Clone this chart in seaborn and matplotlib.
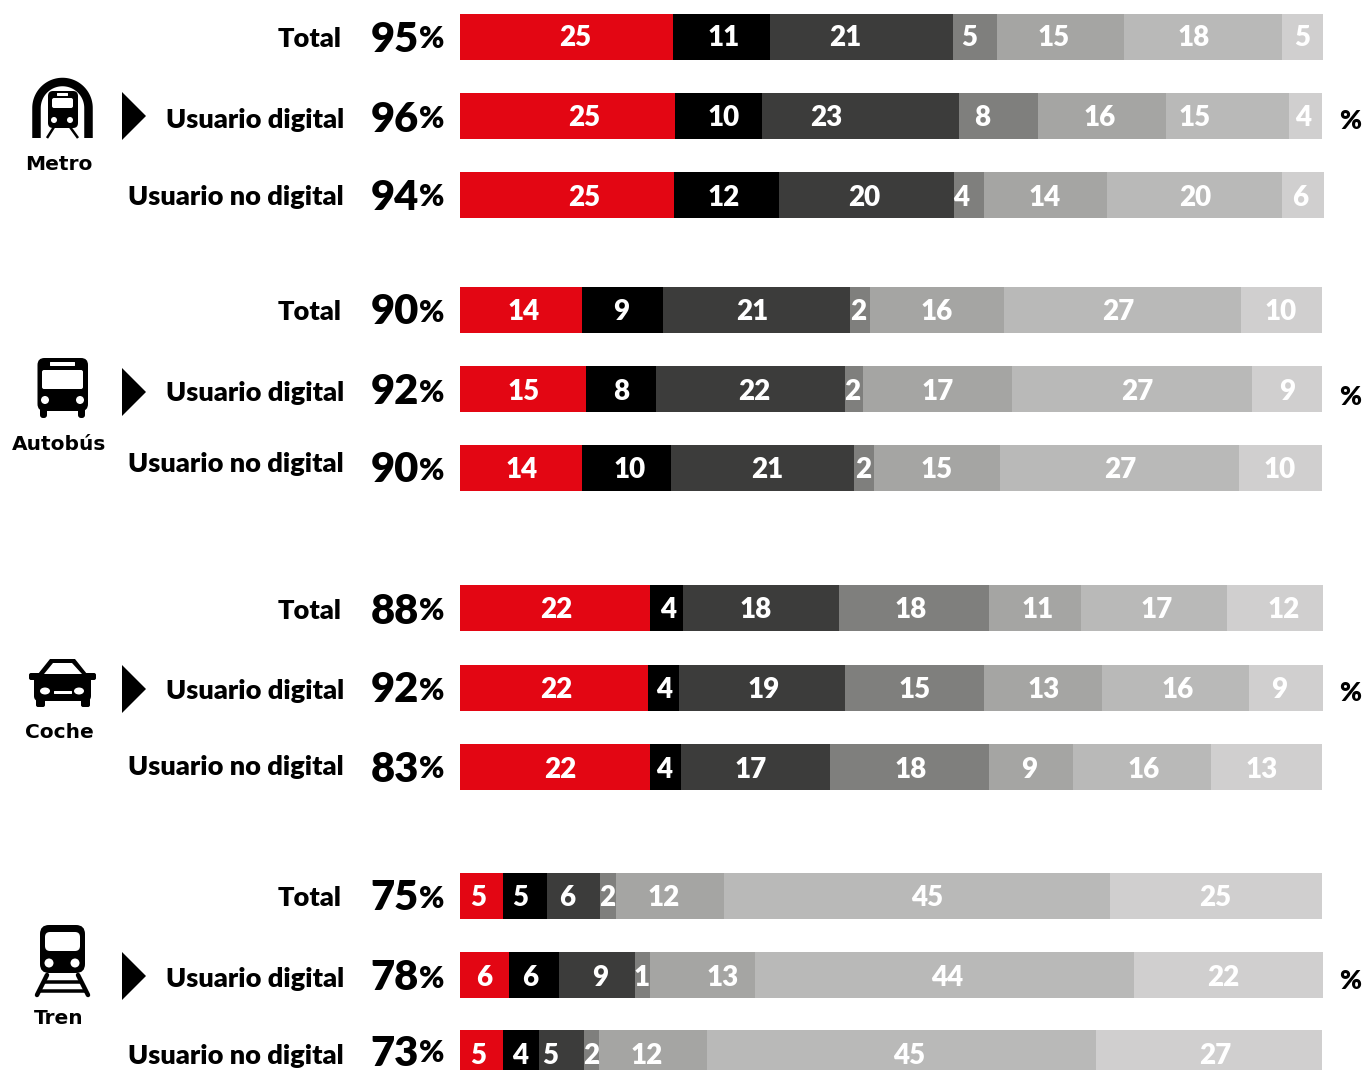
import matplotlib
matplotlib.use("Agg")
import matplotlib.pyplot as plt
from matplotlib.patches import FancyBboxPatch, Polygon, Circle, Ellipse
from matplotlib.transforms import Affine2D
import numpy as np
import pandas as pd
import seaborn as sns

# ---------- data ----------
modes = ["Metro", "Autobús", "Coche", "Tren"]
user_types = ["Total", "Usuario digital", "Usuario no digital"]
segments = ["s1", "s2", "s3", "s4", "s5", "s6", "s7"]

metro_share = [[24.7, 11.2, 21.2, 5.1, 14.7, 18.3, 4.8],
               [24.9, 10.1, 22.8, 9.2, 14.8, 14.3, 3.8],
               [24.8, 12.2, 20.2, 3.5, 14.3, 20.3, 4.8]]
bus_share = [[14.1, 9.4, 21.7, 2.3, 15.5, 27.5, 9.4],
             [14.6, 8.1, 21.9, 2.1, 17.3, 27.8, 8.1],
             [14.1, 10.3, 21.2, 2.4, 14.6, 27.7, 9.6]]
car_share = [[22.0, 3.8, 18.1, 17.4, 10.7, 16.9, 11.1],
             [21.8, 3.6, 19.2, 16.1, 13.7, 17.0, 8.6],
             [22.0, 3.6, 17.3, 18.4, 9.7, 16.0, 12.9]]
train_share = [[5.0, 5.1, 6.1, 1.9, 12.5, 44.7, 24.6],
               [5.7, 5.8, 8.8, 1.7, 12.2, 43.9, 21.9],
               [5.0, 4.2, 5.2, 1.7, 12.5, 45.1, 26.2]]

metro_labels = [[25, 11, 21, 5, 15, 18, 5], [25, 10, 23, 8, 16, 15, 4], [25, 12, 20, 4, 14, 20, 6]]
bus_labels = [[14, 9, 21, 2, 16, 27, 10], [15, 8, 22, 2, 17, 27, 9], [14, 10, 21, 2, 15, 27, 10]]
car_labels = [[22, 4, 18, 18, 11, 17, 12], [22, 4, 19, 15, 13, 16, 9], [22, 4, 17, 18, 9, 16, 13]]
train_labels = [[5, 5, 6, 2, 12, 45, 25], [6, 6, 9, 1, 13, 44, 22], [5, 4, 5, 2, 12, 45, 27]]

row_totals = [95, 96, 94, 90, 92, 90, 88, 92, 83, 75, 78, 73]

# ---------- layout and style ----------
W, H = 1368, 1070
BAR_X0, BAR_X1 = 460, 1323
BAR_H = 46
row_y = [37, 116, 195, 310, 389, 468, 608, 688, 767, 896, 975, 1053]
label_y = [37, 118, 195, 310, 391, 462, 609, 689, 765, 896, 977, 1054]
pct_y = [36, 116, 194, 309, 389, 467, 608, 687, 766, 895, 975, 1050]
side_pct_y = [119, 395, 691, 979]
arrow_y = [116, 392, 689, 976]
mode_name_y = [163, 442, 731, 1017]
colors = ["#E30613", "#000000", "#3C3C3B", "#7F7F7D", "#A5A5A3", "#B9B9B8", "#D0CFCF"]
# nudge (px) of each number from its segment's centre, as placed in the reference
nudges = [[9, 2, -16, -6, -7, -9, 0], [17, 5, -34, -16, -2, -33, -3], [17, -3, -2, -8, -1, 0, -3],
          [3, -1, -4, -2, 0, -4, -1], [1, 0, 4, -2, 0, 5, 0], [1, 3, 5, -1, -1, 0, -1],
          [1, 2, -5, -3, 2, 2, 9], [2, 0, 2, 0, 1, 2, -7], [5, -1, -5, 1, -2, 2, -5],
          [-3, -5, -6, -1, -6, 10, -1], [0, -4, 3, -1, 20, 3, -5], [-3, -1, -12, 0, -6, 8, 6]]

FONT = "Lato"
HEAVY = 800
sns.set_theme(style="white")
plt.rcParams["font.family"] = [FONT, "DejaVu Sans"]

shares = metro_share + bus_share + car_share + train_share
labels = metro_labels + bus_labels + car_labels + train_labels

records = []
for y, row in zip(row_y, shares):
    for seg, c, v in zip(segments, np.cumsum(row), row):
        records.append({"row": y, "segment": seg, "cum": c, "share": v})
df = pd.DataFrame(records)

fig = plt.figure(figsize=(W / 100, H / 100), dpi=100, facecolor="white")
# axes cover the figure; x is the percentage scale, y is in pixel rows
ax = fig.add_axes([0, 0, 1, 1])
scale = (BAR_X1 - BAR_X0) / 100.0
gap_min = np.min(np.diff(sorted(row_y)))
sns.barplot(data=df, y="row", x="cum", hue="segment", orient="y", native_scale=True,
            hue_order=segments[::-1], palette=dict(zip(segments, colors)), dodge=False, saturation=1,
            width=BAR_H / gap_min, linewidth=0, edgecolor="none", legend=False, ax=ax, errorbar=None)
ax.set_xlim(-BAR_X0 / scale, (W - BAR_X0) / scale)
ax.set_ylim(H, 0)
ax.axis("off")

to_x = lambda px: (px - BAR_X0) / scale

# segment numbers
for r, (y, row, labs, nud) in enumerate(zip(row_y, shares, labels, nudges)):
    left = 0
    for v, lab, n in zip(row, labs, nud):
        ax.annotate(str(lab), xy=(left + v / 2, y), xytext=(n, 1 if r == 0 else 0), textcoords="offset pixels",
                    ha="center", va="center_baseline", color="white", fontsize=20, fontweight=HEAVY)
        left += v

# row captions and totals
for r, total in enumerate(row_totals):
    name = user_types[r % 3]
    ax.text(to_x(342 if r % 3 == 0 else 344), label_y[r], name, ha="right", va="center_baseline",
            fontsize=19.5, fontweight=HEAVY, color="black")
    ax.text(to_x(419), pct_y[r], str(total), ha="right", va="center_baseline",
            fontsize=30, fontweight=HEAVY, color="black")
    ax.text(to_x(419), pct_y[r] + 1, "%", ha="left", va="center_baseline",
            fontsize=22, fontweight=HEAVY, color="black")

for y in side_pct_y:
    ax.text(to_x(1350), y, "%", ha="center", va="center_baseline", fontsize=19,
            fontweight=HEAVY, color="black")

for name, y in zip(modes, mode_name_y):
    ax.text(to_x(59), y, name, ha="center", va="center_baseline", fontsize=14.5,
            fontweight="bold", color="black", family="DejaVu Sans")

for y in arrow_y:
    ax.add_patch(Polygon([(to_x(122), y - 24), (to_x(146), y), (to_x(122), y + 24)], fc="black", lw=0))

pix = Affine2D().scale(1, -1).translate(0, H)  # pixel coords, y downward


# ---------- icons ----------
def rbox(x0, y0, x1, y1, r, fc):
    ax.add_patch(FancyBboxPatch((x0 + r, y0 + r), x1 - x0 - 2 * r, y1 - y0 - 2 * r,
                                boxstyle=f"round,pad={r},rounding_size={r}", fc=fc, ec="none", lw=0,
                                transform=pix, mutation_aspect=1))


def circ(x, y, r, fc="white"):
    ax.add_patch(Circle((x, y), r, fc=fc, ec="none", transform=pix))


def line(xs, ys, lw, color="black", cap="butt"):
    ax.plot(xs, ys, color=color, lw=lw * 0.72, solid_capstyle=cap, transform=pix)


def poly(pts, fc="black"):
    ax.add_patch(Polygon(pts, fc=fc, ec="none", transform=pix))


# Metro
t = np.linspace(np.pi, 0, 60)
line(np.r_[36.5, 62.5 + 26 * np.cos(t), 88.5], np.r_[138, 108 - 26 * np.sin(t), 138], 8.5)
rbox(48, 91, 78, 128, 5, "black")
rbox(52, 98, 73, 108, 2, "white")
rbox(57, 93, 68, 96, 0.5, "white")
circ(54, 120, 3)
circ(70, 120, 3)
line([54, 47], [127, 138], 2.5)
line([70, 78], [127, 138], 2.5)

# Bus
rbox(37.5, 358, 88, 411, 7, "black")
rbox(40, 405, 47, 418, 3, "black")
rbox(78, 405, 85, 418, 3, "black")
rbox(42, 370, 83, 389, 2, "white")
rbox(50, 362, 75, 366, 0.5, "white")
circ(45, 400, 4)
circ(80, 400, 4)

# Car
poly([(50, 659), (75, 659), (87, 674), (38, 674)])
rbox(34, 673, 91, 701, 5, "black")
rbox(29, 673, 41, 680, 2, "black")
rbox(84, 673, 96, 680, 2, "black")
rbox(36, 698, 45, 707, 2, "black")
rbox(81, 698, 90, 707, 2, "black")
poly([(53, 663), (72, 663), (82, 674), (44, 674)], "white")
ax.add_patch(Ellipse((45, 691), 10, 7, fc="white", ec="none", transform=pix))
ax.add_patch(Ellipse((79, 691), 10, 7, fc="white", ec="none", transform=pix))
rbox(54, 691, 72, 694, 0.5, "white")

# Train
rbox(40, 925, 85, 973, 9, "black")
rbox(45, 932, 80, 951, 5, "white")
circ(49, 963, 4.5)
circ(75, 963, 4.5)
line([47, 37], [975, 995], 4.5, cap="round")
line([78, 88], [975, 995], 4.5, cap="round")
line([43, 82], [981.5, 981.5], 3.5)
line([40, 85], [991, 991], 3.5)

ax.set_xlim(-BAR_X0 / scale, (W - BAR_X0) / scale)
ax.set_ylim(H, 0)
fig.savefig("out.png", dpi=100, facecolor="white")
